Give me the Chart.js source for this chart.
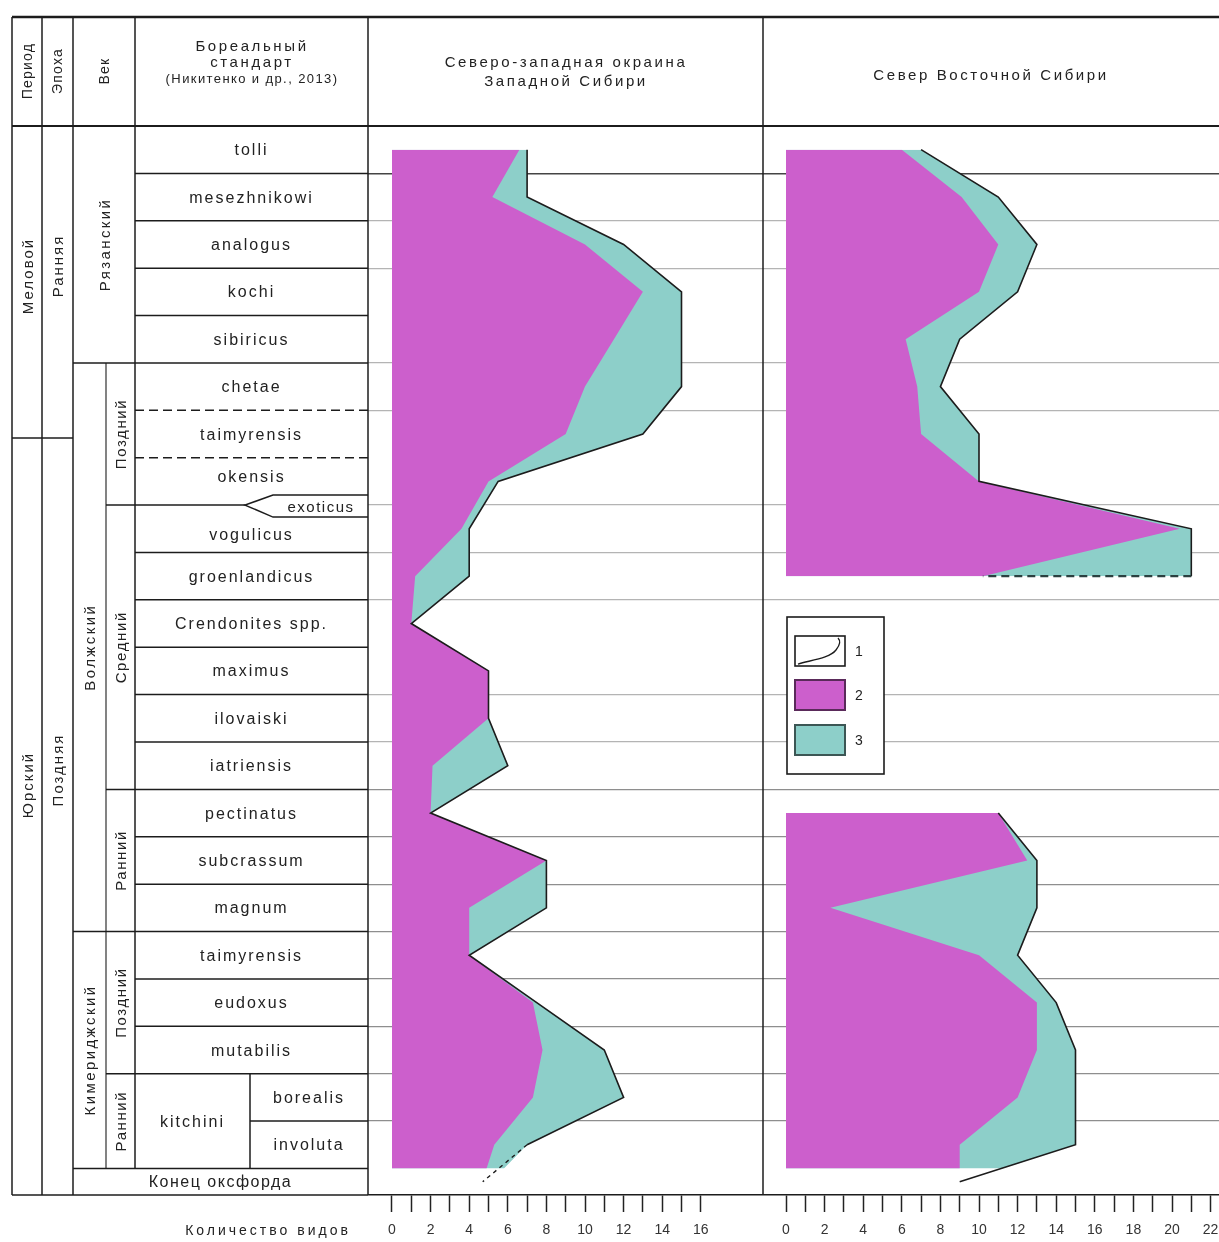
<!DOCTYPE html>
<html lang="ru">
<head>
<meta charset="utf-8">
<title>Количество видов по зонам</title>
<script src="https://cdn.jsdelivr.net/npm/chart.js@4"></script>
<style>
  html, body { margin: 0; padding: 0; background: #fff; }
  #page { position: relative; width: 1219px; height: 1242px; overflow: hidden; }
  canvas { position: absolute; top: 126px; }
  #west { left: 368px; }
  #east { left: 763px; }
  #frame { position: absolute; left: 0; top: 0; pointer-events: none; }
</style>
</head>
<body>
<div id="page">
  <canvas id="west" width="395" height="1116"></canvas>
  <canvas id="east" width="456" height="1116"></canvas>
  <svg id="frame" width="1219" height="1242" xmlns="http://www.w3.org/2000/svg"></svg>
</div>
<script>
// Boreal zones, top to bottom (index = level on the y scale)
const zones = ['tolli', 'mesezhnikowi', 'analogus', 'kochi', 'sibiricus', 'chetae', 'taimyrensis',
  'okensis', 'vogulicus', 'groenlandicus', 'Crendonites spp.', 'maximus', 'ilovaiski', 'iatriensis',
  'pectinatus', 'subcrassum', 'magnum', 'taimyrensis', 'eudoxus', 'mutabilis', 'borealis', 'involuta'];

// Series 1 = total number of species (last value = "Конец оксфорда"), series 2 = magenta part
const westTotal = [7, 7, 12, 15, 15, 15, 13, 5.5, 4, 4, 1, 5, 5, 6, 2, 8, 8, 4, 7.5, 11, 12, 7, 4.7];
const westMain  = [6.6, 5.2, 10, 13, 11.5, 10, 9, 5, 3.6, 1.2, 1, 5, 5, 2.1, 2, 8, 4, 4, 7.3, 7.8, 7.3, 5.3];
const westCut   = [5.8, 4.9]; // total, main at the base of involuta

const eastTotal = [7, 11, 13, 12, 9, 8, 10, 10, 21, 21, null, null, null, null, 11, 13, 13, 12, 14, 15, 15, 15, 9];
const eastMain  = [6, 9.1, 11, 10, 6.2, 6.8, 7, 10, 20.4, 10.2, null, null, null, null, 11, 12.5, 2.3, 10, 13, 13, 12, 9];
const eastCut   = [11.2, 9];

const westTicks = [0, 1, 2, 3, 4, 5, 6, 7, 8, 9, 10, 11, 12, 13, 14, 15, 16];
const eastTicks = [0, 1, 2, 3, 4, 5, 6, 7, 8, 9, 10, 11, 12, 13, 14, 15, 16, 17, 18, 19, 20, 21, 22];

// zone boundaries that carry a grid line across the plots
const gridLevels = [0.5, 1.5, 2.5, 4.5, 5.5, 7.5, 8.5, 9.5, 11.5, 12.5, 13.5, 14.5, 15.5, 16.5, 17.5, 18.5, 19.5, 20.5];

const BASE_LEVEL = 21.5;    // base of involuta
const Y_MIN = -0.5;
const Y_MAX = 22.06;
const OXFORD_LEVEL = (BASE_LEVEL + Y_MAX) / 2;

const FONT = "'Liberation Sans', Arial, sans-serif";
const MAGENTA = '#cc5fcc';
const TEAL = '#8dcfc9';
const INK = '#1c1c1c';

const CHART_TOP = 126;
const AXIS_Y = 1195;
const AXIS_H = 1242 - AXIS_Y;
const ROW = (AXIS_Y - CHART_TOP) / (Y_MAX - Y_MIN);
const UNIT = 19.3;
const WEST_ZERO = 392;
const EAST_ZERO = 786;

const levelOf = i => (i < zones.length ? i : OXFORD_LEVEL);

function pointsFrom(values, from, to) {
    const pts = [];
    for (let i = from; i <= to; i++) pts.push({ x: values[i], y: levelOf(i) });
    return pts;
}

function fillSet(data, color, order) {
    return { data, fill: 'origin', backgroundColor: color, borderColor: 'rgba(0,0,0,0)', borderWidth: 0, pointRadius: 0, order };
}

function outlineSet(data, dashLast, dash, dashWidth, dashColor) {
    const last = data.length - 1;
    return {
        data, fill: false, borderColor: INK, borderWidth: 1.6, pointRadius: 0, order: 0,
        segment: {
            borderDash: ctx => (dashLast && ctx.p1DataIndex === last ? dash : undefined),
            borderWidth: ctx => (dashLast && ctx.p1DataIndex === last ? dashWidth : undefined),
            borderColor: ctx => (dashLast && ctx.p1DataIndex === last ? dashColor : undefined)
        }
    };
}

function makeChart(id, xMin, xMax, tickValues, datasets) {
    return new Chart(document.getElementById(id), {
        type: 'line',
        data: { datasets },
        options: {
            indexAxis: 'y',
            responsive: false,
            animation: false,
            events: [],
            layout: { padding: 0 },
            elements: { point: { radius: 0 }, line: { tension: 0 } },
            plugins: { legend: { display: false }, tooltip: { enabled: false } },
            scales: {
                x: {
                    type: 'linear', min: xMin, max: xMax, bounds: 'data',
                    afterBuildTicks: s => { s.ticks = tickValues.map(v => ({ value: v })); },
                    afterFit: s => { s.height = AXIS_H; s.paddingLeft = 0; s.paddingRight = 0; },
                    ticks: {
                        autoSkip: false, maxRotation: 0, padding: 10, color: '#333',
                        font: { family: FONT, size: 14 },
                        callback: v => (v % 2 === 0 ? String(v) : '')
                    },
                    grid: { drawOnChartArea: false, drawTicks: true, tickLength: 17, tickWidth: 1.5, tickColor: '#222' },
                    border: { display: true, color: INK, width: 1.5 }
                },
                y: {
                    type: 'linear', reverse: true, min: Y_MIN, max: Y_MAX, bounds: 'data',
                    afterBuildTicks: s => { s.ticks = gridLevels.map(v => ({ value: v })); },
                    afterFit: s => { s.width = 0; },
                    ticks: { display: false },
                    grid: {
                        drawTicks: false,
                        color: c => (c.tick && c.tick.value === 0.5 ? '#444' : c.tick && c.tick.value > 13 ? '#8e8e8e' : '#b4b4b4'),
                        lineWidth: c => (c.tick && c.tick.value === 0.5 ? 1.6 : 1.2)
                    },
                    border: { display: false }
                }
            }
        }
    });
}

// Северо-западная окраина Западной Сибири
makeChart('west', -(WEST_ZERO - 368) / UNIT, (763 - WEST_ZERO) / UNIT, westTicks, [
    outlineSet(pointsFrom(westTotal, 0, 22), true, [4, 4], 1.4, INK),
    fillSet(pointsFrom(westMain, 0, 21).concat({ x: westCut[1], y: BASE_LEVEL }), MAGENTA, 1),
    fillSet(pointsFrom(westTotal, 0, 21).concat({ x: westCut[0], y: BASE_LEVEL }), TEAL, 2)
]);

// Север Восточной Сибири
makeChart('east', -(EAST_ZERO - 763) / UNIT, (1219 - EAST_ZERO) / UNIT, eastTicks, [
    outlineSet(pointsFrom(eastTotal, 0, 9).concat({ x: eastMain[9], y: 9 }), true, [8, 5], 2.4, '#2b4040'),
    outlineSet(pointsFrom(eastTotal, 14, 22), false),
    fillSet(pointsFrom(eastMain, 0, 9), MAGENTA, 1),
    fillSet(pointsFrom(eastTotal, 0, 9), TEAL, 2),
    fillSet(pointsFrom(eastMain, 14, 21).concat({ x: eastCut[1], y: BASE_LEVEL }), MAGENTA, 1),
    fillSet(pointsFrom(eastTotal, 14, 21).concat({ x: eastCut[0], y: BASE_LEVEL }), TEAL, 2)
]);

// ---- stratigraphic column, frame and legend (SVG overlay) ----
const svgNS = 'http://www.w3.org/2000/svg';
const svg = document.getElementById('frame');

function el(tag, attrs, text) {
    const e = document.createElementNS(svgNS, tag);
    for (const k in attrs) e.setAttribute(k, attrs[k]);
    if (text != null) e.textContent = text;
    svg.appendChild(e);
    return e;
}

function line(x1, y1, x2, y2, w = 1.5, dash) {
    el('line', { x1, y1, x2, y2, stroke: INK, 'stroke-width': w, 'stroke-dasharray': dash || 'none' });
}

function label(text, x, y, size = 16, spacing = 2, rotate = false) {
    el('text', {
        transform: `translate(${x},${y})` + (rotate ? ' rotate(-90)' : ''),
        'text-anchor': 'middle', 'dominant-baseline': 'central',
        'font-family': FONT, 'font-size': size, 'letter-spacing': spacing, fill: '#222'
    }, text);
}

const bY = i => CHART_TOP + i * ROW;           // top edge of zone i
const mY = i => CHART_TOP + (i + 0.5) * ROW;   // middle of zone i

// outer frame and columns
line(12, 17, 1219, 17, 2.6);
line(12, CHART_TOP, 1219, CHART_TOP, 2);
[12, 42, 73].forEach(x => line(x, 17, x, AXIS_Y));
line(135, 17, 135, bY(22));
line(106, bY(5), 106, bY(22), 1.1);
line(250, bY(20), 250, bY(22));
line(368, 17, 368, AXIS_Y);
line(763, 17, 763, AXIS_Y);
line(12, AXIS_Y, 368, AXIS_Y);
line(12, 438, 73, 438);

for (let i = 1; i <= 22; i++) {
    const y = bY(i);
    if (i === 8) continue;
    if (i === 5 || i === 17 || i === 22) line(73, y, 368, y);
    else if (i === 14 || i === 20) line(106, y, 368, y);
    else if (i === 6 || i === 7) line(135, y, 368, y, 1.5, '9 5');
    else if (i === 21) line(250, y, 368, y);
    else line(135, y, 368, y);
}
// exoticus wedge between okensis and vogulicus
const yw = bY(8);
line(106, yw, 245, yw);
el('polyline', {
    points: `368,${yw - 10} 273,${yw - 10} 245,${yw} 273,${yw + 12} 368,${yw + 12}`,
    fill: 'none', stroke: INK, 'stroke-width': 1.5
});

// header
label('Период', 27, 71, 14, 1.2, true);
label('Эпоха', 57, 71, 14, 1.2, true);
label('Век', 104, 71, 14, 1.2, true);
label('Бореальный', 252, 45, 15, 2.6);
label('стандарт', 252, 61, 15, 2.6);
label('(Никитенко и др., 2013)', 252, 78, 13, 1.4);
label('Северо-западная окраина', 566, 61, 15, 2.6);
label('Западной Сибири', 566, 80, 15, 2.6);
label('Север Восточной Сибири', 991, 74, 15, 2.6);

// periods, epochs, stages, substages
label('Меловой', 27, 276, 15, 2, true);
label('Юрский', 27, 785, 15, 2, true);
label('Ранняя', 57, 266, 15, 2, true);
label('Поздняя', 57, 770, 15, 2, true);
label('Рязанский', 104, (bY(0) + bY(5)) / 2, 15, 2.4, true);
label('Волжский', 89, (bY(5) + bY(17)) / 2, 15, 2.4, true);
label('Кимериджский', 89, (bY(17) + bY(22)) / 2, 15, 2.4, true);
label('Поздний', 120, (bY(5) + yw) / 2, 15, 1.6, true);
label('Средний', 120, (yw + bY(14)) / 2, 15, 1.6, true);
label('Ранний', 120, (bY(14) + bY(17)) / 2, 15, 1.6, true);
label('Поздний', 120, (bY(17) + bY(20)) / 2, 15, 1.6, true);
label('Ранний', 120, (bY(20) + bY(22)) / 2, 15, 1.6, true);

// zone names
zones.forEach((name, i) => {
    if (i === 7 || i === 8 || i >= 20) return;
    label(name, 251.5, mY(i));
});
label('okensis', 251.5, (bY(7) + yw - 10) / 2);
label('vogulicus', 251.5, (yw + 12 + bY(9)) / 2);
label('exoticus', 321, yw + 1, 15, 1.5);
label('kitchini', 192.5, bY(21));
label(zones[20], 309, mY(20));
label(zones[21], 309, mY(21));
label('Конец оксфорда', 220.5, (bY(22) + AXIS_Y) / 2, 16, 1.5);
label('Количество видов', 268, 1230, 14, 3);

// legend
el('rect', { x: 787, y: 617, width: 97, height: 157, fill: '#fff', stroke: INK, 'stroke-width': 1.6 });
el('rect', { x: 795, y: 636, width: 50, height: 30, fill: '#fff', stroke: INK, 'stroke-width': 1.6 });
el('path', { d: 'M798,664 C812,660 830,658 836,650 C840,645 841,641 838,638', fill: 'none', stroke: INK, 'stroke-width': 1.3 });
el('rect', { x: 795, y: 680, width: 50, height: 30, fill: MAGENTA, stroke: '#5a2a5a', 'stroke-width': 2 });
el('rect', { x: 795, y: 725, width: 50, height: 30, fill: TEAL, stroke: '#3c5654', 'stroke-width': 2 });
label('1', 859, 651, 14, 0);
label('2', 859, 695, 14, 0);
label('3', 859, 740, 14, 0);
</script>
</body>
</html>
